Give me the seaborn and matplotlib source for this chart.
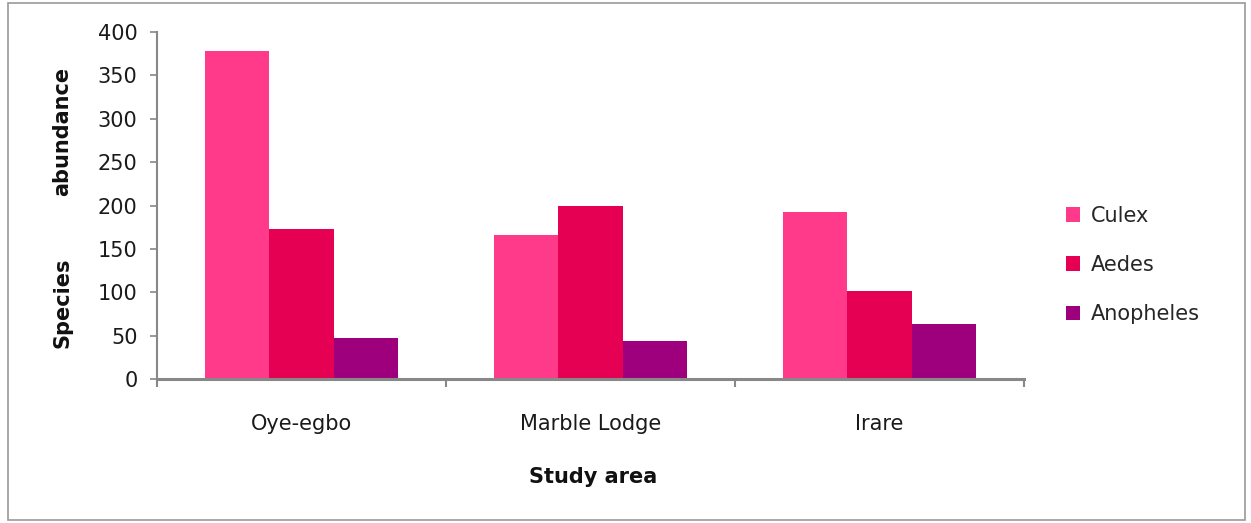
import matplotlib
matplotlib.use("Agg")
import matplotlib.pyplot as plt
import seaborn as sns
import pandas as pd
from matplotlib.patches import Rectangle

areas = ["Oye-egbo", "Marble Lodge", "Irare"]
species = ["Culex", "Aedes", "Anopheles"]
culex = [378, 166, 192]
aedes = [173, 199, 101]
anopheles = [47, 44, 63]
colors = ["#FF3A8A", "#E50054", "#9E007D"]
yticks = [0, 50, 100, 150, 200, 250, 300, 350, 400]

rows = []
for sp, vals in zip(species, [culex, aedes, anopheles]):
    for a, v in zip(areas, vals):
        rows.append({"area": a, "species": sp, "value": v})
df = pd.DataFrame(rows)

sns.set_style("white")
plt.rcParams["font.family"] = ["DejaVu Sans"]

fig = plt.figure(figsize=(12.51, 5.23), dpi=100)
ax = fig.add_axes([157/1251, 1-379/523, (1024-157)/1251, (379-32)/523])

sns.barplot(data=df, x="area", y="value", hue="species", order=areas,
            hue_order=species, palette=colors, width=0.67, saturation=1,
            edgecolor="none", linewidth=0, ax=ax, legend=True)

ax.set_xlim(-0.5, 2.5)
ax.set_ylim(0, 400)
ax.set_yticks(yticks)
ax.set_yticklabels([str(t) for t in yticks])

for s in ["top", "right"]:
    ax.spines[s].set_visible(False)
for s in ["left", "bottom"]:
    ax.spines[s].set_color("#888888")
    ax.spines[s].set_linewidth(1.5)
ax.spines["bottom"].set_linewidth(2.2)

ax.tick_params(axis="y", direction="out", length=5, width=1.2, color="#888888",
               pad=9, labelsize=15, labelcolor="#1a1a1a", left=True)
ax.tick_params(axis="x", which="major", length=0, pad=25, labelsize=15,
               labelcolor="#1a1a1a")
ax.set_xticks([-0.5, 0.5, 1.5, 2.5], minor=True)
ax.tick_params(axis="x", which="minor", direction="out", length=6, width=1.5,
               color="#888888", bottom=True)

ax.set_xlabel("")
ax.set_ylabel("")
fig.text(593/1251, 1-477/523, "Study area", ha="center", va="center",
         fontsize=15, fontweight="bold", color="#111111")
fig.text(62/1251, 1-303/523, "Species", ha="center", va="center",
         rotation=90, fontsize=15, fontweight="bold", color="#111111")
fig.text(62/1251, 1-131/523, "abundance", ha="center", va="center",
         rotation=90, fontsize=15, fontweight="bold", color="#111111")

handles, labels = ax.get_legend_handles_labels()
ax.legend(handles, labels, loc="center left",
          bbox_to_anchor=(1047/1251, 1-265/523), bbox_transform=fig.transFigure,
          frameon=False, fontsize=15, handlelength=0.7, handleheight=0.7,
          handletextpad=0.5, labelspacing=1.4)

fig.patches.append(Rectangle((8/1251, 3/523), (1245-8)/1251, (520-3)/523,
                             transform=fig.transFigure, fill=False,
                             edgecolor="#999999", linewidth=1.2))

fig.savefig("out.png", dpi=100)
